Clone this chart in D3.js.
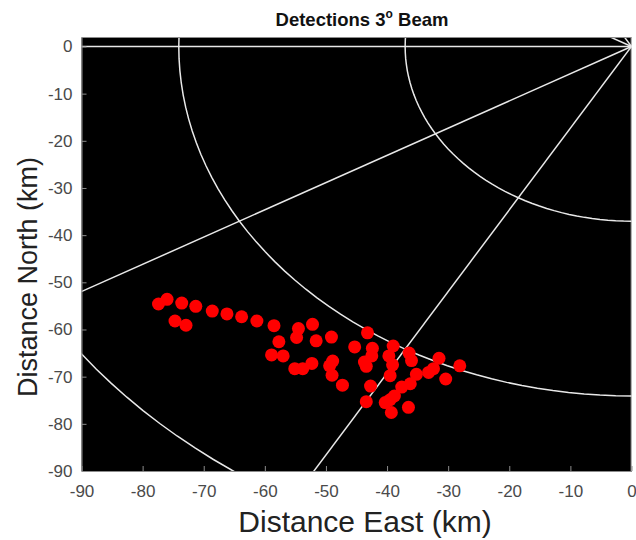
<!DOCTYPE html>
<html><head><meta charset="utf-8">
<script src="https://cdn.jsdelivr.net/npm/d3@7/dist/d3.min.js"></script>
<style>body{margin:0;background:#fff;} svg{display:block;}</style>
</head><body>
<svg id="c" width="636" height="540"></svg>
<script>
// ---- data ----
const xTicks = [-90,-80,-70,-60,-50,-40,-30,-20,-10,0];
const yTicks = [-90,-80,-70,-60,-50,-40,-30,-20,-10,0];
const ringRadii = [37.04, 74.08, 111.12];          // km
const spokeAngles = [0,30,60,90,120,150,180,210,240,270,300,330]; // degrees
const detEast = [-77.4,-76.0,-73.6,-71.3,-74.7,-72.9,-68.6,-66.2,-63.8,-61.3,-58.5,-54.5,-54.8,-52.2,-51.6,-57.7,-58.9,-57.0,-55.1,-53.8,-52.3,-49.1,-48.9,-49.4,-49.0,-47.3,-45.3,-43.2,-42.4,-42.5,-43.7,-43.4,-42.7,-43.4,-39.0,-39.7,-39.1,-39.5,-36.4,-36.0,-35.2,-37.6,-36.2,-40.3,-39.5,-38.8,-39.3,-36.5,-33.2,-32.4,-31.5,-30.4,-28.1];
const detNorth = [-54.6,-53.6,-54.4,-55.1,-58.2,-59.1,-56.1,-56.7,-57.3,-58.2,-59.2,-59.8,-61.7,-58.9,-62.4,-62.6,-65.4,-65.6,-68.3,-68.3,-67.2,-61.6,-66.7,-67.7,-69.7,-71.8,-63.7,-60.7,-64.0,-65.6,-66.9,-67.8,-72.0,-75.3,-63.5,-65.6,-67.5,-69.8,-65.0,-66.6,-69.5,-72.2,-71.5,-75.5,-74.9,-74.1,-77.6,-76.5,-69.1,-68.3,-66.1,-70.5,-67.7];

// ---- layout ----
const L = 81.5, R = 631.5, T = 37.5, B = 471;
const svg = d3.select("#c");
const x = d3.scaleLinear().domain([-90, 0]).range([L, R]);
const y = d3.scaleLinear().domain([-90, 1.9]).range([B, T]);

svg.append("defs").append("clipPath").attr("id","clip")
  .append("rect").attr("x",L).attr("y",T).attr("width",R-L).attr("height",B-T);

svg.append("rect").attr("x",L).attr("y",T).attr("width",R-L).attr("height",B-T).attr("fill","#000");

const g = svg.append("g").attr("clip-path","url(#clip)");
const lineCol = "#e8e8e8";

// range rings
const line = d3.line().x(d=>x(d[0])).y(d=>y(d[1]));
ringRadii.forEach(r => {
  const pts = d3.range(0, 361, 2).map(a => [r*Math.cos(a*Math.PI/180), r*Math.sin(a*Math.PI/180)]);
  g.append("path").attr("d", line(pts)).attr("fill","none").attr("stroke",lineCol).attr("stroke-width",1.5);
});
// spokes
const rMax = 200;
spokeAngles.forEach(a => {
  const pts = [[0,0],[rMax*Math.cos(a*Math.PI/180), rMax*Math.sin(a*Math.PI/180)]];
  g.append("path").attr("d", line(pts)).attr("fill","none").attr("stroke",lineCol).attr("stroke-width",1.5);
});

// detections
g.selectAll("circle.det").data(detEast.map((e,i)=>[e, detNorth[i]])).enter()
  .append("circle").attr("class","det")
  .attr("cx", d=>x(d[0])).attr("cy", d=>y(d[1])).attr("r", 6.5).attr("fill","#ff0000");

// axes
const ff = "'Liberation Sans', Arial, sans-serif";
const axCol = "#8c8c8c", txtCol = "#4a4a4a";
const xAxis = d3.axisBottom(x).tickValues(xTicks).tickFormat(d=>String(d)).tickSizeInner(-5).tickSizeOuter(0).tickPadding(14);
const yAxis = d3.axisLeft(y).tickValues(yTicks).tickFormat(d=>String(d)).tickSizeInner(-5).tickSizeOuter(0).tickPadding(9);
const gx = svg.append("g").attr("transform",`translate(0,${B})`).call(xAxis);
const gy = svg.append("g").attr("transform",`translate(${L},0)`).call(yAxis);
[gx, gy].forEach(a => {
  a.select(".domain").attr("stroke",axCol).attr("stroke-width",1);
  a.selectAll(".tick line").attr("stroke",axCol);
  a.selectAll(".tick text").attr("fill",txtCol).attr("font-family",ff).attr("font-size",17);
});
// top border
svg.append("line").attr("x1",L).attr("x2",R).attr("y1",T).attr("y2",T).attr("stroke",axCol).attr("stroke-width",1);

// labels
svg.append("text").attr("x", 365).attr("y", 532).attr("text-anchor","middle")
  .attr("font-family",ff).attr("font-size",30).attr("fill","#222").text("Distance East (km)");
svg.append("text").attr("transform",`translate(37,277) rotate(-90)`).attr("text-anchor","middle")
  .attr("font-family",ff).attr("font-size",27).attr("fill","#222").text("Distance North (km)");
const title = svg.append("text").attr("x", 362).attr("y", 26).attr("text-anchor","middle")
  .attr("font-family",ff).attr("font-size",18.5).attr("font-weight","bold").attr("fill","#111");
title.append("tspan").text("Detections 3");
title.append("tspan").attr("font-size",12).attr("dy",-8).text("o");
title.append("tspan").attr("dy",8).text(" Beam");
</script>
</body></html>
